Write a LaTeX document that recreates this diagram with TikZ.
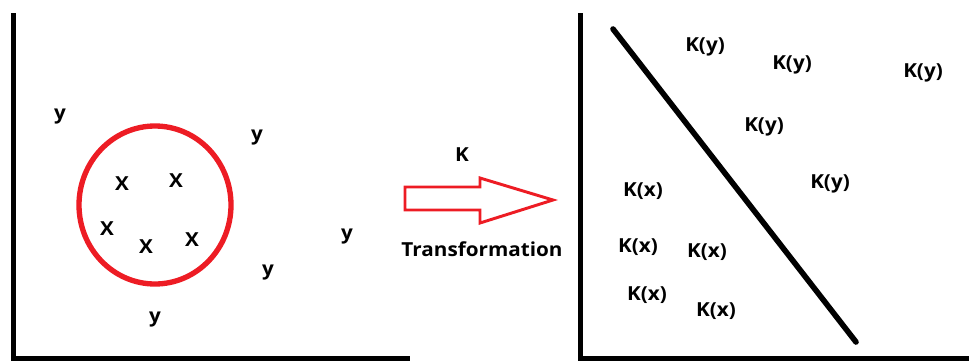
\documentclass[tikz,border=0pt]{standalone}
\usepackage{fontspec}
\setmainfont{Open Sans}[FakeStretch=1.07]
\usetikzlibrary{shapes.geometric}
\definecolor{pred}{RGB}{237,28,36}
\begin{document}
\begin{tikzpicture}[x=0.75pt,y=-0.75pt,
  lbl/.style={inner sep=0pt,font=\fontsize{14.5}{17}\selectfont\bfseries,text=black},
  axis/.style={line width=3.75pt,black},
  sep/.style={line width=4.2pt,black,line cap=round}]
\useasboundingbox (0,0) rectangle (969,361);
% left panel axes
\coordinate (LT) at (13,13);
\coordinate (LO) at (13,358);
\coordinate (LR) at (410,358);
\draw[axis] (LT) -- (LO) -- (LR);
% circle
\node (C) [draw=pred,line width=4pt,ellipse,minimum width=114pt,minimum height=118.5pt,inner sep=0pt] at (155,205) {};
\node[lbl] (y1) at (60,117) {y};
\node[lbl] (y2) at (257,138) {y};
\node[lbl] (y3) at (347,237) {y};
\node[lbl] (y4) at (268,273) {y};
\node[lbl] (y5) at (155,320) {y};
\node[lbl] (x1) at (122,184) {X};
\node[lbl] (x2) at (176,181) {X};
\node[lbl] (x3) at (107,229) {X};
\node[lbl] (x4) at (146,247) {X};
\node[lbl] (x5) at (192,240) {X};
% transformation arrow
\draw[pred,line width=2.2pt,line join=miter] (405,187) -- (480,187) -- (480,178) -- (553,200) -- (480,223) -- (480,210) -- (405,210) -- cycle;
\node[lbl] (K) at (462,155) {K};
\node[lbl] (T) at (482,249) {Transformation};
% right panel axes
\coordinate (RT) at (580,13);
\coordinate (RO) at (580,358);
\coordinate (RR) at (969,358);
\draw[axis] (RT) -- (RO) -- (RR);
\coordinate (S1) at (613,29);
\coordinate (S2) at (856,342);
\draw[sep] (S1) -- (S2);
\node[lbl] (ky1) at (705,47) {K(y)};
\node[lbl] (ky2) at (792,65) {K(y)};
\node[lbl] (ky3) at (923,73) {K(y)};
\node[lbl] (ky4) at (764,127) {K(y)};
\node[lbl] (ky5) at (830,184) {K(y)};
\node[lbl] (kx1) at (643,191) {K(x)};
\node[lbl] (kx2) at (638,247) {K(x)};
\node[lbl] (kx3) at (707,252) {K(x)};
\node[lbl] (kx4) at (647,295) {K(x)};
\node[lbl] (kx5) at (716,311) {K(x)};
\end{tikzpicture}
\end{document}
